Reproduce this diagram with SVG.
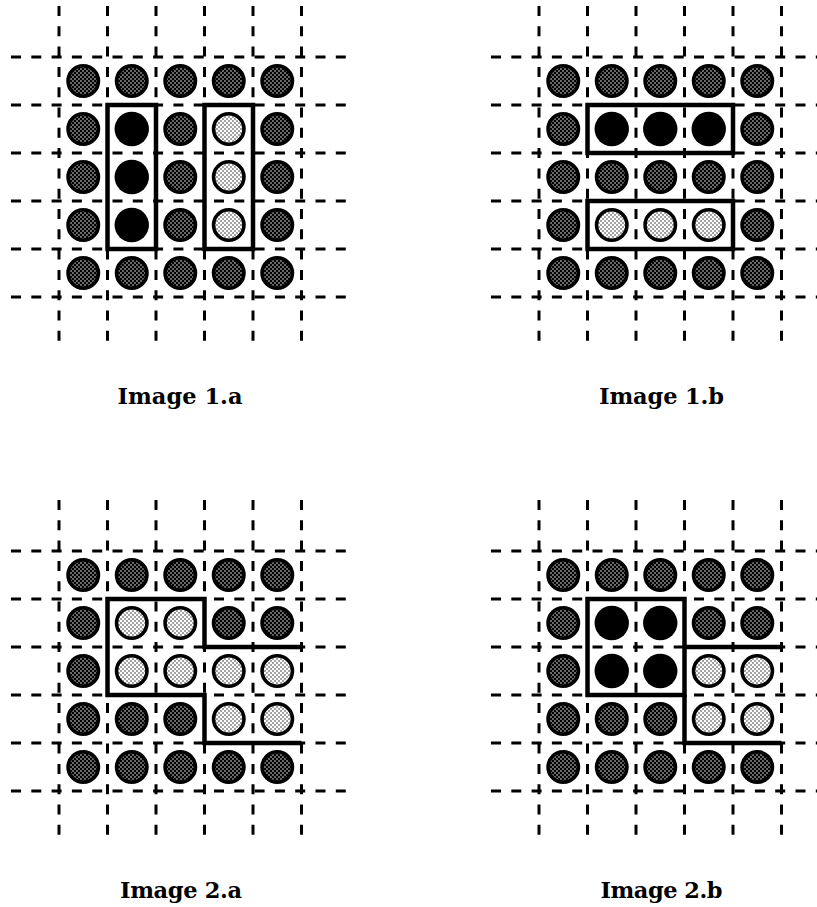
<svg xmlns="http://www.w3.org/2000/svg" xmlns:xlink="http://www.w3.org/1999/xlink" width="817" height="907" viewBox="0 0 817 907">
<style>
.g line{stroke:#000;stroke-width:3;stroke-dasharray:10 10.3;fill:none}
.o{fill:none;stroke:#000;stroke-width:4.5;stroke-linejoin:miter}
.d{fill:url(#pd);stroke:#000;stroke-width:3.6}
.l{fill:url(#pl);stroke:#000;stroke-width:3.6}
.b{fill:#000}
.t{font-family:"DejaVu Serif","Liberation Serif",serif;font-weight:bold;font-size:22.5px;fill:#000;text-anchor:middle}
</style>
<defs>
<pattern id="pd" width="4" height="4" patternUnits="userSpaceOnUse">
<rect width="4" height="4" fill="#000"/>
<circle cx="1" cy="1" r="0.78" fill="#fff"/>
<circle cx="3" cy="3" r="0.78" fill="#fff"/>
</pattern>
<pattern id="pl" width="4" height="4" patternUnits="userSpaceOnUse">
<rect width="4" height="4" fill="#fff"/>
<circle cx="1" cy="1" r="0.7" fill="#000"/>
<circle cx="3" cy="3" r="0.7" fill="#000"/>
</pattern>
<g id="grid" class="g">
<line x1="59" y1="6" x2="59" y2="342"/>
<line x1="107.5" y1="6" x2="107.5" y2="342"/>
<line x1="156" y1="6" x2="156" y2="342"/>
<line x1="204.5" y1="6" x2="204.5" y2="342"/>
<line x1="253" y1="6" x2="253" y2="342"/>
<line x1="301.5" y1="6" x2="301.5" y2="342"/>
<line x1="11" y1="57" x2="350" y2="57"/>
<line x1="11" y1="105" x2="350" y2="105"/>
<line x1="11" y1="153" x2="350" y2="153"/>
<line x1="11" y1="201" x2="350" y2="201"/>
<line x1="11" y1="249" x2="350" y2="249"/>
<line x1="11" y1="297" x2="350" y2="297"/>
</g>
</defs>
<rect width="817" height="907" fill="#fff"/>

<g id="image-1a">
<use xlink:href="#grid"/>
<rect class="o" x="107.5" y="105" width="48.5" height="144"/>
<rect class="o" x="204.5" y="105" width="48.5" height="144"/>
<g id="cells-1a">
<circle class="d" cx="83.25" cy="81" r="15.2"/><circle class="d" cx="131.75" cy="81" r="15.2"/><circle class="d" cx="180.25" cy="81" r="15.2"/><circle class="d" cx="228.75" cy="81" r="15.2"/><circle class="d" cx="277.25" cy="81" r="15.2"/>
<circle class="d" cx="83.25" cy="129" r="15.2"/><circle class="b" cx="131.75" cy="129" r="17.2"/><circle class="d" cx="180.25" cy="129" r="15.2"/><circle class="l" cx="228.75" cy="129" r="15.2"/><circle class="d" cx="277.25" cy="129" r="15.2"/>
<circle class="d" cx="83.25" cy="177" r="15.2"/><circle class="b" cx="131.75" cy="177" r="17.2"/><circle class="d" cx="180.25" cy="177" r="15.2"/><circle class="l" cx="228.75" cy="177" r="15.2"/><circle class="d" cx="277.25" cy="177" r="15.2"/>
<circle class="d" cx="83.25" cy="225" r="15.2"/><circle class="b" cx="131.75" cy="225" r="17.2"/><circle class="d" cx="180.25" cy="225" r="15.2"/><circle class="l" cx="228.75" cy="225" r="15.2"/><circle class="d" cx="277.25" cy="225" r="15.2"/>
<circle class="d" cx="83.25" cy="273" r="15.2"/><circle class="d" cx="131.75" cy="273" r="15.2"/><circle class="d" cx="180.25" cy="273" r="15.2"/><circle class="d" cx="228.75" cy="273" r="15.2"/><circle class="d" cx="277.25" cy="273" r="15.2"/>
</g>
<text class="t" x="180" y="404" textLength="125" lengthAdjust="spacing">Image 1.a</text>
</g>

<g id="image-1b">
<g transform="translate(480,0)">
<use xlink:href="#grid"/>
<rect class="o" x="107.5" y="105" width="145.5" height="48"/>
<rect class="o" x="107.5" y="201" width="145.5" height="48"/>
<g id="cells-1b">
<circle class="d" cx="83.25" cy="81" r="15.2"/><circle class="d" cx="131.75" cy="81" r="15.2"/><circle class="d" cx="180.25" cy="81" r="15.2"/><circle class="d" cx="228.75" cy="81" r="15.2"/><circle class="d" cx="277.25" cy="81" r="15.2"/>
<circle class="d" cx="83.25" cy="129" r="15.2"/><circle class="b" cx="131.75" cy="129" r="17.2"/><circle class="b" cx="180.25" cy="129" r="17.2"/><circle class="b" cx="228.75" cy="129" r="17.2"/><circle class="d" cx="277.25" cy="129" r="15.2"/>
<circle class="d" cx="83.25" cy="177" r="15.2"/><circle class="d" cx="131.75" cy="177" r="15.2"/><circle class="d" cx="180.25" cy="177" r="15.2"/><circle class="d" cx="228.75" cy="177" r="15.2"/><circle class="d" cx="277.25" cy="177" r="15.2"/>
<circle class="d" cx="83.25" cy="225" r="15.2"/><circle class="l" cx="131.75" cy="225" r="15.2"/><circle class="l" cx="180.25" cy="225" r="15.2"/><circle class="l" cx="228.75" cy="225" r="15.2"/><circle class="d" cx="277.25" cy="225" r="15.2"/>
<circle class="d" cx="83.25" cy="273" r="15.2"/><circle class="d" cx="131.75" cy="273" r="15.2"/><circle class="d" cx="180.25" cy="273" r="15.2"/><circle class="d" cx="228.75" cy="273" r="15.2"/><circle class="d" cx="277.25" cy="273" r="15.2"/>
</g>
</g>
<text class="t" x="661.5" y="404" textLength="125" lengthAdjust="spacing">Image 1.b</text>
</g>

<g id="image-2a">
<g transform="translate(0,494)">
<use xlink:href="#grid"/>
<path class="o" d="M301.5,153 H204.5 V105 H107.5 V201 H204.5 V249 H301.5"/>
<g id="cells-2a">
<circle class="d" cx="83.25" cy="81" r="15.2"/><circle class="d" cx="131.75" cy="81" r="15.2"/><circle class="d" cx="180.25" cy="81" r="15.2"/><circle class="d" cx="228.75" cy="81" r="15.2"/><circle class="d" cx="277.25" cy="81" r="15.2"/>
<circle class="d" cx="83.25" cy="129" r="15.2"/><circle class="l" cx="131.75" cy="129" r="15.2"/><circle class="l" cx="180.25" cy="129" r="15.2"/><circle class="d" cx="228.75" cy="129" r="15.2"/><circle class="d" cx="277.25" cy="129" r="15.2"/>
<circle class="d" cx="83.25" cy="177" r="15.2"/><circle class="l" cx="131.75" cy="177" r="15.2"/><circle class="l" cx="180.25" cy="177" r="15.2"/><circle class="l" cx="228.75" cy="177" r="15.2"/><circle class="l" cx="277.25" cy="177" r="15.2"/>
<circle class="d" cx="83.25" cy="225" r="15.2"/><circle class="d" cx="131.75" cy="225" r="15.2"/><circle class="d" cx="180.25" cy="225" r="15.2"/><circle class="l" cx="228.75" cy="225" r="15.2"/><circle class="l" cx="277.25" cy="225" r="15.2"/>
<circle class="d" cx="83.25" cy="273" r="15.2"/><circle class="d" cx="131.75" cy="273" r="15.2"/><circle class="d" cx="180.25" cy="273" r="15.2"/><circle class="d" cx="228.75" cy="273" r="15.2"/><circle class="d" cx="277.25" cy="273" r="15.2"/>
</g>
</g>
<text class="t" x="181" y="898" textLength="122" lengthAdjust="spacing">Image 2.a</text>
</g>

<g id="image-2b">
<g transform="translate(480,494)">
<use xlink:href="#grid"/>
<rect class="o" x="107.5" y="105" width="97" height="96"/>
<path class="o" d="M204.5,201 V249 H301.5 M204.5,153 H301.5"/>
<g id="cells-2b">
<circle class="d" cx="83.25" cy="81" r="15.2"/><circle class="d" cx="131.75" cy="81" r="15.2"/><circle class="d" cx="180.25" cy="81" r="15.2"/><circle class="d" cx="228.75" cy="81" r="15.2"/><circle class="d" cx="277.25" cy="81" r="15.2"/>
<circle class="d" cx="83.25" cy="129" r="15.2"/><circle class="b" cx="131.75" cy="129" r="17.2"/><circle class="b" cx="180.25" cy="129" r="17.2"/><circle class="d" cx="228.75" cy="129" r="15.2"/><circle class="d" cx="277.25" cy="129" r="15.2"/>
<circle class="d" cx="83.25" cy="177" r="15.2"/><circle class="b" cx="131.75" cy="177" r="17.2"/><circle class="b" cx="180.25" cy="177" r="17.2"/><circle class="l" cx="228.75" cy="177" r="15.2"/><circle class="l" cx="277.25" cy="177" r="15.2"/>
<circle class="d" cx="83.25" cy="225" r="15.2"/><circle class="d" cx="131.75" cy="225" r="15.2"/><circle class="d" cx="180.25" cy="225" r="15.2"/><circle class="l" cx="228.75" cy="225" r="15.2"/><circle class="l" cx="277.25" cy="225" r="15.2"/>
<circle class="d" cx="83.25" cy="273" r="15.2"/><circle class="d" cx="131.75" cy="273" r="15.2"/><circle class="d" cx="180.25" cy="273" r="15.2"/><circle class="d" cx="228.75" cy="273" r="15.2"/><circle class="d" cx="277.25" cy="273" r="15.2"/>
</g>
</g>
<text class="t" x="661.5" y="898" textLength="122" lengthAdjust="spacing">Image 2.b</text>
</g>
</svg>
